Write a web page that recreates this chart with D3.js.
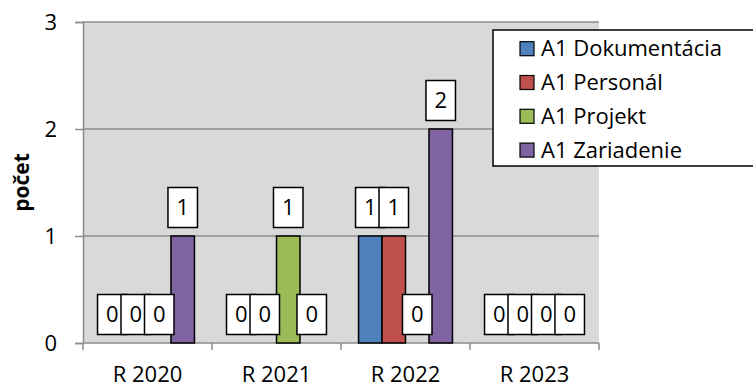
<!DOCTYPE html>
<html>
<head>
<meta charset="utf-8">
<script src="https://cdn.jsdelivr.net/npm/d3@7"></script>
<style>
	body { margin: 0; background: #fff; }
	svg { display: block; font-family: 'Open Sans', sans-serif; }
</style>
</head>
<body>
<div class="plot"></div>
<script>
const categories = ['R 2020', 'R 2021', 'R 2022', 'R 2023'];
const seriesNames = ['A1 Dokumentácia', 'A1 Personál', 'A1 Projekt', 'A1 Zariadenie'];
const seriesColors = ['#4F81BD', '#C0504D', '#9BBB59', '#8064A2'];
const dokumentacia = [0, 0, 1, 0];
const personal = [0, 0, 1, 0];
const projekt = [0, 1, 0, 0];
const zariadenie = [1, 0, 2, 0];
const yTicks = [0, 1, 2, 3];

const seriesValues = [dokumentacia, personal, projekt, zariadenie];

const W = 753, H = 387;
const plotLeft = 83, plotRight = 599, plotTop = 22, plotBottom = 343;

const svg = d3.select('.plot').append('svg')
	.attr('width', W)
	.attr('height', H);

// Scales
const x0 = d3.scaleBand().domain(categories).range([plotLeft, plotRight]).padding(0);
const gap = x0.step() * 0.136;
const x1 = d3.scaleBand().domain(seriesNames).range([gap, x0.step() - gap]).padding(0);
const y = d3.scaleLinear().domain([0, 3]).range([plotBottom, plotTop]);

// Plot background
svg.append('rect')
	.attr('x', plotLeft).attr('y', plotTop)
	.attr('width', plotRight - plotLeft).attr('height', plotBottom - plotTop)
	.attr('fill', '#D9D9D9');

// Gridlines
svg.append('g').selectAll('line')
	.data(yTicks.filter(d => d > 0))
	.enter().append('line')
	.attr('x1', plotLeft).attr('x2', plotRight)
	.attr('y1', d => y(d)).attr('y2', d => y(d))
	.attr('stroke', '#8C8C8C').attr('stroke-width', 1.5);

// Y axis
const yAxis = svg.append('g')
	.attr('transform', `translate(${plotLeft},0)`)
	.call(d3.axisLeft(y).tickValues(yTicks).tickSize(8).tickPadding(18).tickFormat(d3.format('d')));
yAxis.select('.domain').attr('stroke', '#8C8C8C').attr('stroke-width', 1.5);
yAxis.selectAll('.tick line').attr('stroke', '#8C8C8C').attr('stroke-width', 1.5);
yAxis.selectAll('.tick text')
	.attr('font-size', 22).attr('font-family', "'Open Sans', sans-serif").attr('fill', '#000');

// X axis line and boundary ticks
svg.append('line')
	.attr('x1', plotLeft).attr('x2', plotRight)
	.attr('y1', plotBottom).attr('y2', plotBottom)
	.attr('stroke', '#8C8C8C').attr('stroke-width', 1.5);
const bounds = categories.map(c => x0(c)).concat([x0(categories[categories.length - 1]) + x0.step()]);
svg.append('g').selectAll('line')
	.data(bounds)
	.enter().append('line')
	.attr('x1', d => d).attr('x2', d => d)
	.attr('y1', plotBottom).attr('y2', plotBottom + 7)
	.attr('stroke', '#8C8C8C').attr('stroke-width', 1.5);

svg.append('g').selectAll('text')
	.data(categories)
	.enter().append('text')
	.attr('x', d => x0(d) + x0.bandwidth() / 2)
	.attr('y', 382)
	.attr('text-anchor', 'middle')
	.attr('font-size', 22)
	.text(d => d);

// Y axis title
svg.append('text')
	.attr('transform', `translate(29,${(plotTop + plotBottom) / 2}) rotate(-90)`)
	.attr('text-anchor', 'middle')
	.attr('font-size', 21)
	.attr('font-weight', 'bold')
	.text('počet');

// Bars
const flat = [];
categories.forEach((c, i) => {
	seriesNames.forEach((s, j) => {
		flat.push({ cat: c, series: s, value: seriesValues[j][i], color: seriesColors[j] });
	});
});

svg.append('g').selectAll('rect')
	.data(flat.filter(d => d.value > 0))
	.enter().append('rect')
	.attr('x', d => x0(d.cat) + x1(d.series))
	.attr('y', d => y(d.value))
	.attr('width', x1.bandwidth())
	.attr('height', d => y(0) - y(d.value))
	.attr('fill', d => d.color)
	.attr('stroke', '#000')
	.attr('stroke-width', 1.5);

// Data labels in boxes, drawn in series order so later boxes cover earlier ones
const boxW = 29.5, boxH = 40;
const labels = svg.append('g').selectAll('g')
	.data(flat)
	.enter().append('g')
	.attr('transform', d => `translate(${x0(d.cat) + x1(d.series) + x1.bandwidth() / 2},${y(d.value) - 8.5 - boxH / 2})`);
labels.append('rect')
	.attr('x', -boxW / 2).attr('y', -boxH / 2)
	.attr('width', boxW).attr('height', boxH)
	.attr('fill', '#fff')
	.attr('stroke', '#000')
	.attr('stroke-width', 1.5);
labels.append('text')
	.attr('text-anchor', 'middle')
	.attr('dy', '0.35em')
	.attr('font-size', 22)
	.text(d => d.value);

// Legend
const legend = svg.append('g');
legend.append('rect')
	.attr('x', 493).attr('y', 30)
	.attr('width', 280).attr('height', 136)
	.attr('fill', '#fff')
	.attr('stroke', '#000')
	.attr('stroke-width', 1.5);
const items = legend.selectAll('g')
	.data(seriesNames)
	.enter().append('g')
	.attr('transform', (d, i) => `translate(520,${48.7 + i * 33.8})`);
items.append('rect')
	.attr('x', 0).attr('y', -7)
	.attr('width', 14).attr('height', 14)
	.attr('fill', (d, i) => seriesColors[i])
	.attr('stroke', '#000')
	.attr('stroke-width', 1.2);
items.append('text')
	.attr('x', 21)
	.attr('dy', '0.35em')
	.attr('font-size', 22)
	.text(d => d);
</script>
</body>
</html>
